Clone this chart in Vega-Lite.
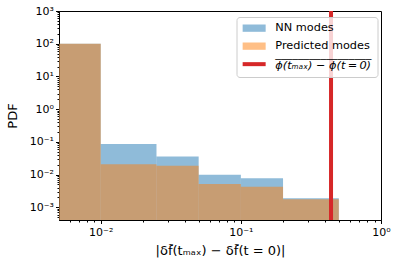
{
  "$schema": "https://vega.github.io/schema/vega-lite/v6.json",
  "width": 322,
  "height": 209,
  "autosize": {"type": "none"},
  "padding": {"left": 59, "top": 11, "right": 17, "bottom": 49},
  "background": "white",
  "config": {
    "font": "DejaVu Sans",
    "view": {"stroke": "black", "strokeWidth": 1},
    "axis": {"grid": false, "domainColor": "black", "tickColor": "black", "labelColor": "black", "titleColor": "black", "labelFont": "DejaVu Sans", "titleFont": "DejaVu Sans", "titleFontWeight": "normal"},
    "legend": {
      "title": null,
      "orient": "none",
      "legendX": 177.5,
      "legendY": 6,
      "padding": 5.5,
      "fillColor": "rgba(255,255,255,0.8)",
      "strokeColor": "#cccccc",
      "cornerRadius": 3,
      "labelFontSize": 11.3,
      "labelColor": "black",
      "labelFont": "DejaVu Sans",
      "labelOffset": 22,
      "rowPadding": 6,
      "symbolSize": 100
    }
  },
  "datasets": {
    "hist": [
      {"series": "NN modes", "lo": 0.005, "hi": 0.01, "pdf": 100},
      {"series": "NN modes", "lo": 0.01, "hi": 0.025, "pdf": 0.086},
      {"series": "NN modes", "lo": 0.025, "hi": 0.05, "pdf": 0.036},
      {"series": "NN modes", "lo": 0.05, "hi": 0.1, "pdf": 0.0098},
      {"series": "NN modes", "lo": 0.1, "hi": 0.2, "pdf": 0.0077},
      {"series": "NN modes", "lo": 0.2, "hi": 0.5, "pdf": 0.00188},
      {"series": "Predicted modes", "lo": 0.005, "hi": 0.01, "pdf": 100},
      {"series": "Predicted modes", "lo": 0.01, "hi": 0.025, "pdf": 0.0207},
      {"series": "Predicted modes", "lo": 0.025, "hi": 0.05, "pdf": 0.0187},
      {"series": "Predicted modes", "lo": 0.05, "hi": 0.1, "pdf": 0.00516},
      {"series": "Predicted modes", "lo": 0.1, "hi": 0.2, "pdf": 0.00427},
      {"series": "Predicted modes", "lo": 0.2, "hi": 0.5, "pdf": 0.00175}
    ],
    "line": [
      {"series": "phi", "x": 0.44}
    ]
  },
  "layer": [
    {
      "data": {"name": "hist"},
      "mark": {"type": "bar", "opacity": 0.5, "clip": true, "strokeWidth": 0},
      "encoding": {
        "x": {
          "field": "lo", "type": "quantitative",
          "scale": {"type": "log", "domain": [0.00504, 1], "nice": false},
          "axis": {
            "title": "|\u03b4f\u0303(t\u2098\u2090\u2093) \u2212 \u03b4f\u0303(t = 0)|",
            "titleFontSize": 13,
            "titlePadding": 7,
            "labelFontSize": 11,
            "labelPadding": 3,
            "values": [0.006, 0.007, 0.008, 0.009, 0.01, 0.02, 0.03, 0.04, 0.05, 0.06, 0.07, 0.08, 0.09, 0.1, 0.2, 0.3, 0.4, 0.5, 0.6, 0.7, 0.8, 0.9, 1],
            "labelExpr": "abs(datum.value - 0.01) < 1e-9 ? '10\u207b\u00b2' : abs(datum.value - 0.1) < 1e-9 ? '10\u207b\u00b9' : abs(datum.value - 1) < 1e-9 ? '10\u2070' : ''",
            "tickSize": {"condition": {"test": "abs(log(datum.value)/LN10 - round(log(datum.value)/LN10)) < 0.001", "value": 3.5}, "value": 2},
            "labelFlush": false,
            "labelOverlap": false
          }
        },
        "x2": {"field": "hi"},
        "y": {
          "field": "pdf", "type": "quantitative",
          "scale": {"type": "log", "domain": [0.000409, 1000], "nice": false},
          "axis": {
            "title": "PDF",
            "titleFontSize": 13,
            "titlePadding": 10,
            "labelFontSize": 11,
            "labelPadding": 2,
            "values": [0.0005, 0.0006, 0.0007, 0.0008, 0.0009, 0.001, 0.002, 0.003, 0.004, 0.005, 0.006, 0.007, 0.008, 0.009, 0.01, 0.02, 0.03, 0.04, 0.05, 0.06, 0.07, 0.08, 0.09, 0.1, 0.2, 0.3, 0.4, 0.5, 0.6, 0.7, 0.8, 0.9, 1, 2, 3, 4, 5, 6, 7, 8, 9, 10, 20, 30, 40, 50, 60, 70, 80, 90, 100, 200, 300, 400, 500, 600, 700, 800, 900, 1000],
            "labelExpr": "abs(log(datum.value)/LN10 - round(log(datum.value)/LN10)) < 0.001 ? (round(log(datum.value)/LN10) == 3 ? '10\u00b3' : round(log(datum.value)/LN10) == 2 ? '10\u00b2' : round(log(datum.value)/LN10) == 1 ? '10\u00b9' : round(log(datum.value)/LN10) == 0 ? '10\u2070' : round(log(datum.value)/LN10) == -1 ? '10\u207b\u00b9' : round(log(datum.value)/LN10) == -2 ? '10\u207b\u00b2' : '10\u207b\u00b3') : ''",
            "tickSize": {"condition": {"test": "abs(log(datum.value)/LN10 - round(log(datum.value)/LN10)) < 0.001", "value": 3.5}, "value": 2},
            "labelFlush": false,
            "labelOverlap": false
          }
        },
        "y2": {"datum": 0.0001},
        "color": {
          "field": "series", "type": "nominal",
          "scale": {"domain": ["NN modes", "Predicted modes", "phi"], "range": ["#1f77b4", "#ff7f0e", "#d62728"]},
          "legend": {
            "labelExpr": "datum.value == 'phi' ? ['\u203e\u203e\u203e\u203e\u203e\u203e\u203e\u203e\u203e\u203e\u203e\u203e\u203e\u203e\u203e\u203e\u203e', '\u03d5(t\u2098\u2090\u2093) \u2212 \u03d5(t\u2009=\u20090)'] : datum.label",
            "encode": {
              "labels": {
                "update": {
                  "fontStyle": {"signal": "datum.value == 'phi' ? 'italic' : 'normal'"},
                  "lineHeight": {"value": 2}
                }
              },
              "symbols": {
                "update": {
                  "shape": {"signal": "datum.value == 'phi' ? 'M-1,-0.4H3.6V0.4H-1Z' : 'M-1,-0.73H3.6V0.73H-1Z'"},
                  "fill": {"signal": "scale('color', datum.value)"},
                  "fillOpacity": {"signal": "datum.value == 'phi' ? 1 : 0.5"},
                  "opacity": {"value": 1},
                  "stroke": {"value": "transparent"},
                  "strokeWidth": {"value": 0}
                }
              }
            }
          }
        }
      }
    },
    {
      "data": {"name": "line"},
      "mark": {"type": "rule", "strokeWidth": 4, "clip": true},
      "encoding": {
        "x": {"field": "x", "type": "quantitative"},
        "color": {
          "field": "series", "type": "nominal",
          "legend": {
            "labelExpr": "datum.value == 'phi' ? ['\u203e\u203e\u203e\u203e\u203e\u203e\u203e\u203e\u203e\u203e\u203e\u203e\u203e\u203e\u203e\u203e\u203e', '\u03d5(t\u2098\u2090\u2093) \u2212 \u03d5(t\u2009=\u20090)'] : datum.label",
            "encode": {
              "labels": {
                "update": {
                  "fontStyle": {"signal": "datum.value == 'phi' ? 'italic' : 'normal'"},
                  "lineHeight": {"value": 2}
                }
              },
              "symbols": {
                "update": {
                  "shape": {"signal": "datum.value == 'phi' ? 'M-1,-0.4H3.6V0.4H-1Z' : 'M-1,-0.73H3.6V0.73H-1Z'"},
                  "fill": {"signal": "scale('color', datum.value)"},
                  "fillOpacity": {"signal": "datum.value == 'phi' ? 1 : 0.5"},
                  "opacity": {"value": 1},
                  "stroke": {"value": "transparent"},
                  "strokeWidth": {"value": 0}
                }
              }
            }
          }
        }
      }
    }
  ]
}
